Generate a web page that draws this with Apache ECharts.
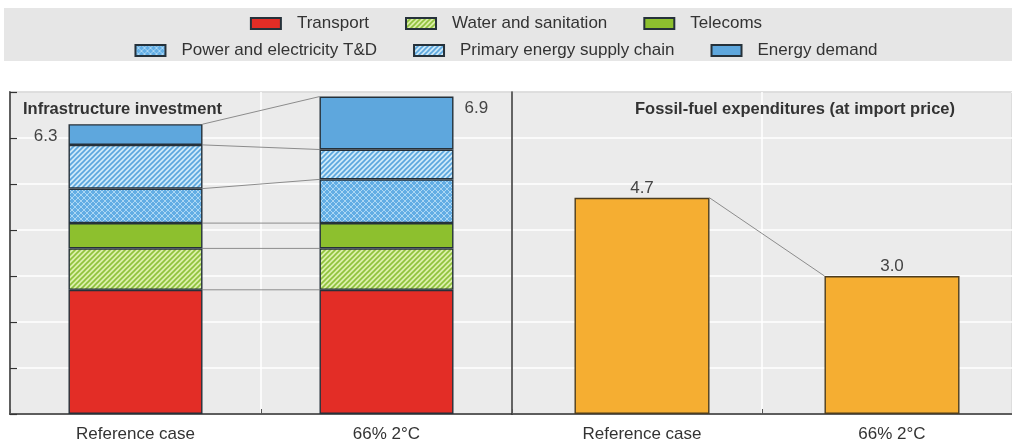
<!DOCTYPE html>
<html>
<head>
<meta charset="utf-8">
<script src="https://cdn.jsdelivr.net/npm/echarts@6/dist/echarts.min.js"></script>
<style>
  html, body { margin: 0; padding: 0; background: #ffffff; }
  #chart { width: 1012px; height: 443px; }
</style>
</head>
<body>
<div id="chart"></div>
<script>
// Scenarios on both panels
const scenarios = ['Reference case', '66% 2°C'];

// Infrastructure investment components (stacked, bottom to top)
const transport       = [2.7, 2.7];
const waterSanitation = [0.9, 0.9];
const telecoms        = [0.55, 0.55];
const powerTD         = [0.75, 0.95];
const primarySupply   = [0.95, 0.65];
const energyDemand    = [0.45, 1.15];

// Fossil-fuel expenditures at import price
const fossilFuel = [4.7, 3.0];

// Value axis ticks shared by both panels
const yTicks = [0, 1, 2, 3, 4, 5, 6, 7];

const FONT = '"Liberation Sans", Arial, sans-serif';
const BAR_W = 134;
const FOSSIL_W = 135;
const FOSSIL_SHIFT = 10; // empty slot placed before the fossil bars
const TEXT = '#333333';

// Tiled canvas fills for hatched components
function stripes(bg, fg, size, lw) {
  const c = document.createElement('canvas');
  c.width = c.height = size;
  const g = c.getContext('2d');
  g.fillStyle = bg; g.fillRect(0, 0, size, size);
  g.strokeStyle = fg; g.lineWidth = lw;
  g.beginPath();
  g.moveTo(-1, size + 1); g.lineTo(size + 1, -1);
  g.moveTo(-size / 2 - 1, size / 2 + 1); g.lineTo(size / 2 + 1, -size / 2 - 1);
  g.moveTo(size / 2 - 1, size * 1.5 + 1); g.lineTo(size * 1.5 + 1, size / 2 - 1);
  g.stroke();
  return { image: c, repeat: 'repeat' };
}
function crosshatch(bg, fg, size, lw) {
  const c = document.createElement('canvas');
  c.width = c.height = size;
  const g = c.getContext('2d');
  g.fillStyle = bg; g.fillRect(0, 0, size, size);
  g.strokeStyle = fg; g.lineWidth = lw;
  g.beginPath();
  g.moveTo(0, size); g.lineTo(size, 0);
  g.moveTo(0, 0); g.lineTo(size, size);
  g.stroke();
  return { image: c, repeat: 'repeat' };
}

const fills = {
  transport: '#e32d26',
  water: stripes('#dcefaa', '#8fc23c', 5, 1.6),
  telecoms: '#8dc02e',
  power: crosshatch('#62ade4', '#b3dbf5', 6, 0.9),
  primary: stripes('#cde9f8', '#5aa6de', 5, 1.6),
  demand: '#5ea7dd'
};

const components = [
  { name: 'Transport', values: transport, fill: fills.transport },
  { name: 'Water and sanitation', values: waterSanitation, fill: fills.water },
  { name: 'Telecoms', values: telecoms, fill: fills.telecoms },
  { name: 'Power and electricity T&D', values: powerTD, fill: fills.power },
  { name: 'Primary energy supply chain', values: primarySupply, fill: fills.primary },
  { name: 'Energy demand', values: energyDemand, fill: fills.demand }
];

// Running tops of each component for the connector lines
const tops = [];
let acc = [0, 0];
components.forEach(c => {
  acc = [acc[0] + c.values[0], acc[1] + c.values[1]];
  tops.push([0, acc[0], acc[1]]);
});
const totals = [[0, acc[0]], [1, acc[1]]];

const barSeries = components.map(c => ({
  name: c.name,
  type: 'bar',
  stack: 'infra',
  xAxisIndex: 0,
  yAxisIndex: 0,
  barWidth: BAR_W,
  data: c.values,
  itemStyle: { color: c.fill, borderColor: '#25313a', borderWidth: 1.4 },
  z: 3
}));

// Thin grey line from the right edge of the first bar to the left edge of the second
function connectorFor(width, offset) {
  return function (params, api) {
    const a = api.coord([0, api.value(1)]);
    const b = api.coord([1, api.value(2)]);
    const half = width / 2;
    return {
      type: 'line',
      shape: { x1: a[0] + offset + half, y1: a[1], x2: b[0] + offset - half, y2: b[1] },
      style: { stroke: '#8c8c8c', lineWidth: 1 }
    };
  };
}

const legendText = { fontSize: 17, color: TEXT, fontFamily: FONT, padding: [0, 0, 0, 11] };
const legendBase = {
  left: 'center',
  icon: 'rect',
  itemWidth: 30,
  itemHeight: 11,
  itemGap: 36,
  padding: [5, 5, 5, 24],
  selectedMode: false,
  textStyle: legendText
};

const valueAxis = (grid, showTicks) => ({
  type: 'value',
  gridIndex: grid,
  min: yTicks[0],
  max: yTicks[yTicks.length - 1],
  interval: 1,
  axisLine: { show: true, lineStyle: { color: '#333', width: 1.5 } },
  axisTick: { show: showTicks, inside: true, length: 7, lineStyle: { color: '#333', width: 1.2 } },
  axisLabel: { show: false },
  splitLine: { show: true, lineStyle: { color: '#ffffff', width: 1.5 } }
});

const categoryAxis = (grid, labelShift) => ({
  type: 'category',
  gridIndex: grid,
  data: scenarios,
  axisLine: { lineStyle: { color: '#333', width: 1.5 } },
  axisTick: { show: true, inside: true, length: 5, lineStyle: { color: '#555' } },
  axisLabel: { fontSize: 17, color: TEXT, fontFamily: FONT, margin: 12, padding: [0, 0, 0, labelShift * 2] },
  splitLine: { show: true, lineStyle: { color: '#ffffff', width: 1.5 } }
});

const option = {
  animation: false,
  backgroundColor: '#ffffff',
  textStyle: { fontFamily: FONT },
  graphic: [{
    type: 'rect',
    z: -10,
    shape: { x: 4, y: 8, width: 1012, height: 53 },
    style: { fill: '#e6e6e6' }
  }],
  title: [
    {
      text: 'Infrastructure investment',
      left: 23, top: 101, padding: 0,
      textStyle: { fontSize: 16.5, fontWeight: 'bold', color: TEXT, fontFamily: FONT }
    },
    {
      text: 'Fossil-fuel expenditures (at import price)',
      left: 795, top: 101, padding: 0, textAlign: 'center',
      textStyle: { fontSize: 16.5, fontWeight: 'bold', color: TEXT, fontFamily: FONT }
    }
  ],
  legend: [
    Object.assign({}, legendBase, { top: 10, data: components.slice(0, 3).map(c => c.name) }),
    Object.assign({}, legendBase, { top: 37, data: components.slice(3).map(c => c.name) })
  ],
  grid: [
    { left: 10, right: 500, top: 92, bottom: 29, show: true, backgroundColor: '#ebebeb', borderColor: '#555', borderWidth: 1.5 },
    { left: 512, right: 0, top: 92, bottom: 29, show: true, backgroundColor: '#ebebeb', borderColor: '#555', borderWidth: 1.5 }
  ],
  xAxis: [categoryAxis(0, 0), categoryAxis(1, FOSSIL_SHIFT / 2)],
  yAxis: [valueAxis(0, true), valueAxis(1, false)],
  series: barSeries.concat([
    {
      type: 'custom',
      xAxisIndex: 0, yAxisIndex: 0,
      encode: { x: 0, y: [1, 2] },
      data: tops,
      renderItem: connectorFor(BAR_W, 0),
      silent: true,
      z: 2
    },
    {
      type: 'custom',
      xAxisIndex: 0, yAxisIndex: 0,
      encode: { x: 0, y: 1 },
      data: totals,
      silent: true,
      z: 4,
      renderItem(params, api) {
        const idx = params.dataIndex;
        const v = api.value(1);
        const p = api.coord([idx, v]);
        const half = BAR_W / 2;
        return {
          type: 'text',
          x: idx === 0 ? p[0] - half - 11 : p[0] + half + 11,
          y: p[1] + 12,
          style: {
            text: v.toFixed(1),
            fill: '#444',
            font: '17px ' + FONT,
            align: idx === 0 ? 'right' : 'left',
            verticalAlign: 'middle'
          }
        };
      }
    },
    {
      // empty slot so the fossil bars sit slightly right of the band centre
      type: 'bar',
      xAxisIndex: 1, yAxisIndex: 1,
      barWidth: FOSSIL_SHIFT,
      data: ['-', '-'],
      itemStyle: { opacity: 0 },
      silent: true
    },
    {
      name: 'Fossil-fuel expenditures',
      type: 'bar',
      xAxisIndex: 1, yAxisIndex: 1,
      barWidth: FOSSIL_W,
      barGap: 0,
      data: fossilFuel,
      itemStyle: { color: '#f5ae32', borderColor: '#4d3d1f', borderWidth: 1.4 },
      label: {
        show: true, position: 'top', distance: 1,
        fontSize: 17, color: '#444', fontFamily: FONT,
        formatter: p => p.value.toFixed(1)
      },
      z: 3
    },
    {
      type: 'custom',
      xAxisIndex: 1, yAxisIndex: 1,
      encode: { x: 0, y: [1, 2] },
      data: [[0, fossilFuel[0], fossilFuel[1]]],
      renderItem: connectorFor(FOSSIL_W, FOSSIL_SHIFT / 2),
      silent: true,
      z: 2
    }
  ])
};

const chart = echarts.init(document.getElementById('chart'), null, { renderer: 'canvas' });
chart.setOption(option);
</script>
</body>
</html>
